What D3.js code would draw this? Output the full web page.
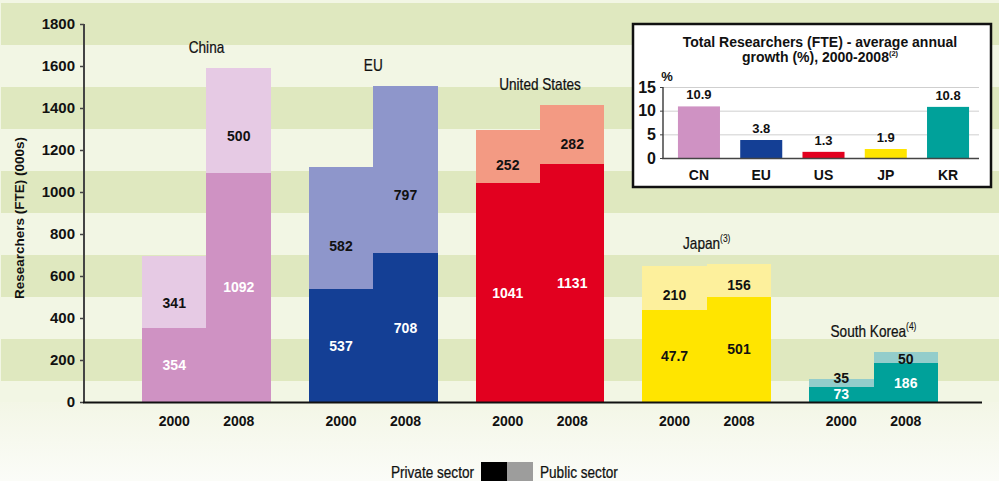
<!DOCTYPE html>
<html><head><meta charset="utf-8">
<script src="https://cdn.jsdelivr.net/npm/d3@7"></script>
<style>
html,body{margin:0;padding:0;background:#fff;}
svg{display:block;}
.b{font-family:"Liberation Sans",Arial,sans-serif;font-weight:bold;}
.n{font-family:"Liberation Sans",Arial,sans-serif;}
</style></head>
<body>
<svg id="c" width="999" height="481"></svg>
<script>
// ---- data ----
const groups = ["China", "EU", "United States", "Japan", "South Korea"];
const groupNotes = ["", "", "", "(3)", "(4)"];
const years = ["2000", "2008"];
const privateValues = [[354, 1092], [537, 708], [1041, 1131], [437, 501], [73, 186]];
const publicValues  = [[341, 500], [582, 797], [252, 282], [210, 156], [35, 50]];
const privateLabels = [["354", "1092"], ["537", "708"], ["1041", "1131"], ["47.7", "501"], ["73", "186"]];
const publicLabels  = [["341", "500"], ["582", "797"], ["252", "282"], ["210", "156"], ["35", "50"]];
const yTicks = [0, 200, 400, 600, 800, 1000, 1200, 1400, 1600, 1800];
const growthCats = ["CN", "EU", "US", "JP", "KR"];
const growthValues = [10.9, 3.8, 1.3, 1.9, 10.8];
const growthLabels = ["10.9", "3.8", "1.3", "1.9", "10.8"];
const growthTicks = [0, 5, 10, 15];

// ---- styles ----
const privateColors = ["#cf92c3", "#143f95", "#e2001f", "#ffe500", "#00a19a"];
const publicColors  = ["#e6cae4", "#8e96cb", "#f39a83", "#fdf09c", "#93cdcb"];
const privateText   = ["#fff", "#fff", "#fff", "#111", "#fff"];
const NARROW = 0.85;

const svg = d3.select("#c");
const defs = svg.append("defs");
const grad = defs.append("linearGradient").attr("id","fade").attr("x1",0).attr("x2",0).attr("y1",0).attr("y2",1);
grad.append("stop").attr("offset","0%").attr("stop-color","#f3f6e6");
grad.append("stop").attr("offset","100%").attr("stop-color","#fbfcf8");

const y = d3.scaleLinear().domain([0, 1800]).range([402, 24]);
const x = d3.scaleBand().domain(groups).range([142, 938]).paddingInner(0.2264).paddingOuter(0);
const xi = d3.scaleBand().domain(years).range([0, x.bandwidth()]).padding(0);

// narrow text helper (condensed look)
function narrow(sel, tx, ty, anchor, size) {
  return sel.append("text").attr("class","n")
    .attr("transform", `translate(${tx},${ty}) scale(${NARROW},1)`)
    .attr("text-anchor", anchor).attr("font-size", size)
    .attr("fill","#111").attr("stroke","#111").attr("stroke-width",0.25);
}

// background
svg.append("rect").attr("x",0).attr("y",0).attr("width",999).attr("height",y(0)).attr("fill","#f2f6e4");
svg.append("rect").attr("x",0).attr("y",y(0)).attr("width",999).attr("height",481-y(0)).attr("fill","url(#fade)");
const bandCenters = [200, 600, 1000, 1400, 1800];
svg.append("g").selectAll("rect").data(bandCenters).join("rect")
  .attr("x", 1).attr("width", 998)
  .attr("y", d => Math.max(1, y(d + 100)))
  .attr("height", d => y(d - 100) - Math.max(1, y(d + 100)))
  .attr("fill", "#dfe8bf");

// bars
const segs = [];
groups.forEach((g, gi) => years.forEach((yr, yi) => {
  const p = privateValues[gi][yi], q = publicValues[gi][yi];
  const privMid = (y(0) + y(p)) / 2;
  const pubPos = Math.min(y(p + q) + 0.65 * (y(p) - y(p + q)), privMid - 16.5);
  segs.push({g, gi, yr, y0: 0, y1: p, color: privateColors[gi], label: privateLabels[gi][yi], tc: privateText[gi], ly: privMid});
  segs.push({g, gi, yr, y0: p, y1: p + q, color: publicColors[gi], label: publicLabels[gi][yi], tc: "#111", ly: pubPos});
}));
const bars = svg.append("g");
bars.selectAll("rect").data(segs).join("rect")
  .attr("x", d => x(d.g) + xi(d.yr))
  .attr("width", xi.bandwidth())
  .attr("y", d => y(d.y1))
  .attr("height", d => y(d.y0) - y(d.y1))
  .attr("fill", d => d.color)
  .attr("shape-rendering","crispEdges");
bars.selectAll("text").data(segs).join("text")
  .attr("class","b")
  .attr("x", d => x(d.g) + xi(d.yr) + xi.bandwidth()/2)
  .attr("y", d => d.ly)
  .attr("dy","0.36em")
  .attr("text-anchor","middle")
  .attr("font-size", 14)
  .attr("fill", d => d.tc)
  .text(d => d.label);

// group labels
groups.forEach((g, i) => {
  const top = y(d3.max(years.map((yr, yi) => privateValues[i][yi] + publicValues[i][yi])));
  const t = narrow(svg, x(g) + x.bandwidth()/2, top - 15, "middle", 16);
  t.append("tspan").text(g);
  if (groupNotes[i]) t.append("tspan").attr("font-size", 10).attr("stroke-width",0.1).attr("dy", -7).text(groupNotes[i]);
});

// year labels
const yl = svg.append("g");
groups.forEach(g => years.forEach(yr => {
  yl.append("text").attr("class","b")
    .attr("x", x(g) + xi(yr) + xi.bandwidth()/2)
    .attr("y", 426).attr("text-anchor","middle").attr("font-size", 14).attr("fill","#111")
    .text(yr);
}));

// axes
const yAxis = svg.append("g").attr("transform","translate(84,0)")
  .call(d3.axisLeft(y).tickValues(yTicks).tickSize(4).tickPadding(5).tickFormat(d3.format("d")));
yAxis.select(".domain").attr("stroke","#444").attr("stroke-width",2).attr("d", `M0,${y(1800)}V${y(0)}`);
yAxis.selectAll(".tick line").attr("stroke","#444").attr("stroke-width",1.5);
yAxis.selectAll(".tick text").attr("class","b").attr("font-size",15).attr("fill","#111");
svg.append("line").attr("x1",83).attr("x2",982).attr("y1",y(0)+0.5).attr("y2",y(0)+0.5)
  .attr("stroke","#111").attr("stroke-width",2);

svg.append("text").attr("class","b")
  .attr("transform",`translate(24,${(y(0)+y(1800))/2 + 5}) rotate(-90)`)
  .attr("text-anchor","middle").attr("font-size",13.5).attr("fill","#111")
  .text("Researchers (FTE) (000s)");

// legend
const lg = svg.append("g");
narrow(lg, 474, 478, "end", 16).text("Private sector");
lg.append("rect").attr("x",481).attr("y",462).attr("width",26).attr("height",19).attr("fill","#000");
lg.append("rect").attr("x",507).attr("y",462).attr("width",26).attr("height",19).attr("fill","#9d9d9c");
narrow(lg, 540, 478, "start", 16).text("Public sector");

// inset
const ins = svg.append("g");
ins.append("rect").attr("x",633).attr("y",24).attr("width",358).attr("height",163)
  .attr("fill","#fff").attr("stroke","#111").attr("stroke-width",2.5);
ins.append("text").attr("class","b").attr("x",820).attr("y",47).attr("text-anchor","middle").attr("font-size",14).attr("fill","#111")
  .text("Total Researchers (FTE) - average annual");
const t2 = ins.append("text").attr("class","b").attr("x",820).attr("y",62).attr("text-anchor","middle").attr("font-size",14).attr("fill","#111");
t2.append("tspan").text("growth (%), 2000-2008");
t2.append("tspan").attr("font-size",7.5).attr("dy",-6).text("(2)");

const gy = d3.scaleLinear().domain([0, 15]).range([158, 87]);
const gx = d3.scaleBand().domain(growthCats).range([663, 984]).paddingInner(0.325).paddingOuter(0.24);
ins.append("g").selectAll("line").data(growthTicks.filter(d => d > 0)).join("line")
  .attr("x1",663).attr("x2",979).attr("y1", d => gy(d)+0.5).attr("y2", d => gy(d)+0.5)
  .attr("stroke","#cfcfcf").attr("stroke-width",1);
ins.append("g").selectAll("rect").data(growthValues).join("rect")
  .attr("x", (d, i) => gx(growthCats[i])).attr("width", gx.bandwidth())
  .attr("y", d => gy(d)).attr("height", d => gy(0) - gy(d))
  .attr("fill", (d, i) => privateColors[i]);
ins.append("g").selectAll("text").data(growthValues).join("text")
  .attr("class","b").attr("x", (d, i) => gx(growthCats[i]) + gx.bandwidth()/2)
  .attr("y", d => gy(d) - 7).attr("text-anchor","middle").attr("font-size",13).attr("fill","#111")
  .text((d, i) => growthLabels[i]);
ins.append("g").selectAll("text").data(growthCats).join("text")
  .attr("class","b").attr("x", d => gx(d) + gx.bandwidth()/2)
  .attr("y", 180).attr("text-anchor","middle").attr("font-size",14).attr("fill","#111")
  .text(d => d);
const gAxis = ins.append("g").attr("transform","translate(663,0)")
  .call(d3.axisLeft(gy).tickValues(growthTicks).tickSize(3).tickPadding(4));
gAxis.select(".domain").attr("stroke","#444").attr("stroke-width",1.5).attr("d",`M0,${gy(15)}V${gy(0)}`);
gAxis.selectAll(".tick line").attr("stroke","#444");
gAxis.selectAll(".tick text").attr("class","b").attr("font-size",16).attr("fill","#111");
ins.append("line").attr("x1",662).attr("x2",979).attr("y1",gy(0)+0.5).attr("y2",gy(0)+0.5).attr("stroke","#444").attr("stroke-width",1.5);
ins.append("text").attr("class","b").attr("x",667).attr("y",81).attr("text-anchor","middle").attr("font-size",13).attr("fill","#111").text("%");
</script>
</body></html>
